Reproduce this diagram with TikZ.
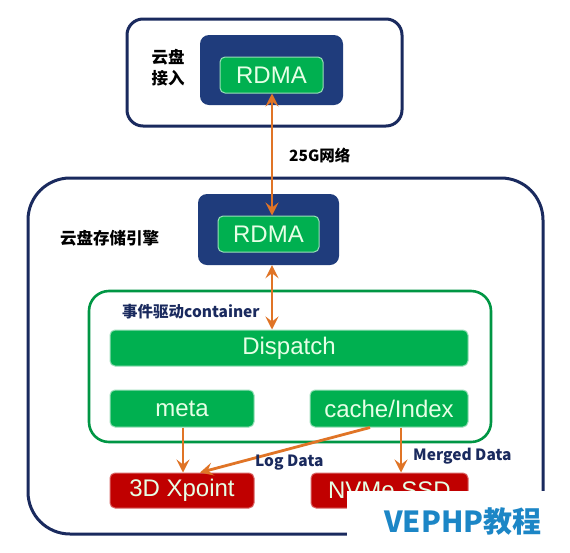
\documentclass[tikz,border=0pt]{standalone}
\usepackage{fontspec}
\setmainfont{Liberation Sans}
\newfontfamily\cjk{Noto Sans CJK SC}
\usetikzlibrary{arrows.meta}
\definecolor{navy}{HTML}{1A2A5E}
\definecolor{darkbox}{HTML}{1F3C7C}
\definecolor{gfill}{HTML}{00B050}
\definecolor{gtext}{HTML}{E6FFE6}
\definecolor{redbox}{HTML}{C00000}
\definecolor{arr}{HTML}{E07426}
\definecolor{wm}{HTML}{1C86C6}
\tikzset{
  outerbox/.style={draw=navy, line width=3pt, rounded corners=#1},
  darkrect/.style={fill=darkbox, rounded corners=9pt, draw=none},
  gbox/.style={fill=gfill, draw=gfill!40!white, line width=1pt, rounded corners=5pt, text=gtext,
    font=\fontsize{24}{26}\selectfont, inner sep=0pt},
  rbox/.style={fill=redbox, draw=redbox!60!white, line width=1pt, rounded corners=5pt, text=gtext,
    font=\fontsize{24}{26}\selectfont, inner sep=0pt},
  lbl/.style={font=\cjk\bfseries\fontsize{15.5}{18}\selectfont, text=black, inner sep=0pt},
  dlbl/.style={font=\cjk\bfseries\fontsize{15.5}{18}\selectfont, text=navy, inner sep=0pt},
  con/.style={draw=arr, line width=2.8pt, -{Stealth[length=13pt,width=13pt,inset=5pt]}},
  bicon/.style={draw=arr, line width=2.8pt, {Stealth[length=13pt,width=13pt,inset=5pt]}-{Stealth[length=13pt,width=13pt,inset=5pt]}},
}
\begin{document}
\begin{tikzpicture}[x=1pt,y=-1pt]
\useasboundingbox (0,0) rectangle (570,552);
\fill[white] (0,0) rectangle (570,552);
% top access box
\draw[outerbox=16pt] (127,19) rectangle (402,126);
\node[darkrect, minimum width=143pt, minimum height=70pt] (topdark) at (271.5,70) {};
\node[gbox, minimum width=103pt, minimum height=36pt] (rdma1) at (271.5,75) {RDMA};
\node[lbl, align=center, font=\cjk\bfseries\fontsize{16.5}{21}\selectfont] (access) at (168,68) {云盘\\接入};
% storage engine
\draw[outerbox=42pt] (28,178) rectangle (543,534);
\node[darkrect, minimum width=141pt, minimum height=71pt] (botdark) at (268.5,229.5) {};
\node[gbox, minimum width=101pt, minimum height=36pt] (rdma2) at (268.5,234) {RDMA};
\node[lbl, anchor=west, font=\cjk\bfseries\fontsize{16.5}{18}\selectfont] (engine) at (60,238) {云盘存储引擎};
\node[lbl, anchor=west] (net) at (289,155) {25G网络};
% container
\draw[draw=gfill!85!black, line width=2.6pt, rounded corners=20pt] (89,291) rectangle (491,442);
\node[dlbl, anchor=west] (cont) at (122,312) {事件驱动container};
\node[gbox, minimum width=358pt, minimum height=36pt] (disp) at (289,348) {Dispatch};
\node[gbox, minimum width=144pt, minimum height=37pt] (meta) at (182,408.5) {meta};
\node[gbox, minimum width=158pt, minimum height=37pt] (cache) at (389,408.5) {cache/Index};
% storage devices
\node[rbox, minimum width=144pt, minimum height=35pt] (xp) at (182,490.5) {3D Xpoint};
\node[rbox, minimum width=157pt, minimum height=35pt] (ssd) at (389.5,490.5) {NVMe SSD};
% connectors
\draw[bicon] ([xshift=0.5pt]rdma1.south) -- ([xshift=3.5pt]rdma2.north);
\draw[bicon] ([xshift=3.5pt]botdark.south) -- ([xshift=-17pt]disp.north);
\draw[con] ([xshift=1pt]meta.south) -- ([xshift=1pt]xp.north);
\draw[con] ([xshift=-19pt]cache.south) -- ([xshift=18pt]xp.north);
\draw[con] ([xshift=12pt]cache.south) -- ([xshift=11.5pt]ssd.north);
\node[dlbl, anchor=west] (log) at (255,463) {Log Data};
\node[dlbl, anchor=west] (merged) at (413,456) {Merged Data};
% watermark
\fill[white] (347,491) rectangle (570,552);
\node[anchor=west, text=wm, font=\cjk\bfseries\fontsize{29}{32}\selectfont, inner sep=0pt] (wmk) at (384,522) {VEPHP教程};
\end{tikzpicture}
\end{document}
